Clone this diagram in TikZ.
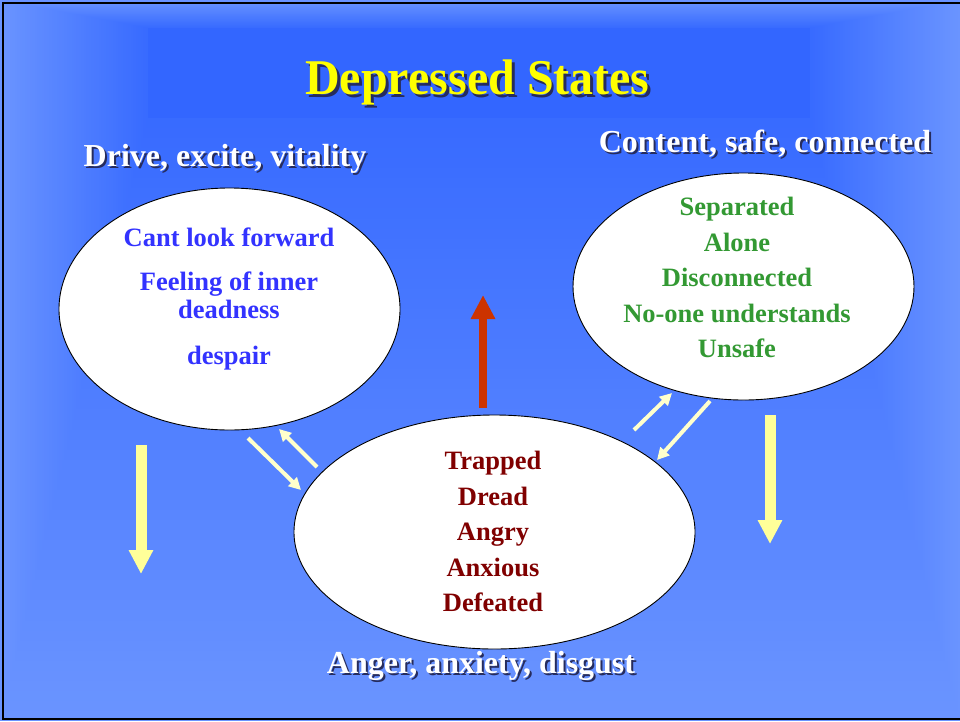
\documentclass[tikz,border=0pt]{standalone}
\usepackage{fontspec}
\setmainfont{Liberation Serif}
\usetikzlibrary{shapes.geometric,arrows.meta}

\definecolor{bglight}{HTML}{6A94FF}
\definecolor{bgdark}{HTML}{376AFF}
\definecolor{titleband}{HTML}{3366FF}
\definecolor{titleyellow}{HTML}{FFFF00}
\definecolor{drivetext}{HTML}{3333FF}
\definecolor{safetext}{HTML}{339933}
\definecolor{threattext}{HTML}{800000}
\definecolor{flowyellow}{HTML}{FFFF99}
\definecolor{pairyellow}{HTML}{FFFFCC}
\definecolor{uparrow}{HTML}{CC3300}
\definecolor{shadowcol}{HTML}{1A1A40}

% text with a soft drop shadow, set inside a single node
\newcommand\dropshadowed[3]{%
  \makebox[0pt][l]{\hspace*{#1}\raisebox{-#1}{\textcolor{shadowcol!85!bglight}{#3}}}%
  \textcolor{#2}{#3}}

\tikzset{
  statebox/.style={ellipse, draw=black, fill=white, line width=0.9pt, inner sep=0pt},
  heading/.style={anchor=base, font=\fontsize{32}{38}\selectfont\bfseries, inner sep=0pt},
  item/.style={anchor=base, font=\fontsize{26.5}{32}\selectfont\bfseries, inner sep=0pt},
  bigflow/.style={line width=11pt, -{Triangle[width=23pt,length=24pt]}},
  pairflow/.style={line width=4pt, -{Triangle[width=12pt,length=12pt]}, draw=pairyellow}
}

\begin{document}
\begin{tikzpicture}[x=1pt,y=-1pt]
\useasboundingbox (0,0) rectangle (960,721);

% rectangular background gradient, darkest around the title band
\foreach \k in {0,...,60}{
  \pgfmathsetmacro\t{\k/60}
  \pgfmathsetmacro\p{100*\t}
  \fill[bgdark!\p!bglight] (148*\t,28*\t) rectangle (960-150*\t,721-603*\t);
}
\fill[titleband] (148,28) rectangle (810,118);

% frame
\draw[black, line width=2pt] (960,3) -- (3,3) -- (3,719) -- (960,719);

% title
\node[anchor=base, font=\fontsize{50}{60}\selectfont\bfseries, xscale=0.96, inner sep=0pt] (title) at (477.5,94)
  {\dropshadowed{3pt}{titleyellow}{Depressed States}};

% system headings
\node[heading] (drivehead) at (225,166) {\dropshadowed{2pt}{white}{Drive, excite, vitality}};
\node[heading] (safehead) at (765,152) {\dropshadowed{2pt}{white}{Content, safe, connected}};
\node[heading] (threathead) at (481,673) {\dropshadowed{2pt}{white}{Anger, anxiety, disgust}};

% the three states
\node[statebox, minimum width=341pt, minimum height=242pt] (drive) at (229.5,309) {};
\node[statebox, minimum width=341pt, minimum height=227pt] (safe) at (743.5,286.5) {};
\node[statebox, minimum width=401pt, minimum height=234pt] (threat) at (494.5,532) {};

% drive contents
\node[item, text=drivetext] (d1) at (229,246) {Cant look forward};
\node[item, text=drivetext] (d2) at (229,290) {Feeling of inner};
\node[item, text=drivetext] (d3) at (229,318) {deadness};
\node[item, text=drivetext] (d4) at (229,364) {despair};

% soothing contents
\node[item, text=safetext] (s1) at (737,215.5) {Separated};
\node[item, text=safetext] (s2) at (737,251) {Alone};
\node[item, text=safetext] (s3) at (737,286.5) {Disconnected};
\node[item, text=safetext] (s4) at (737,322) {No-one understands};
\node[item, text=safetext] (s5) at (737,357) {Unsafe};

% threat contents
\node[item, text=threattext] (t1) at (493,469.5) {Trapped};
\node[item, text=threattext] (t2) at (493,505) {Dread};
\node[item, text=threattext] (t3) at (493,540.5) {Angry};
\node[item, text=threattext] (t4) at (493,576) {Anxious};
\node[item, text=threattext] (t5) at (493,611.5) {Defeated};

% flow arrows
\coordinate (upfoot) at (483,408);
\coordinate (uptip) at (483,295);
\draw[bigflow, draw=uparrow, line width=8pt] (upfoot) -- (uptip);

\coordinate (leftfoot) at (141,445);
\coordinate (lefttip) at (141,574);
\draw[bigflow, draw=flowyellow] (leftfoot) -- (lefttip);

\coordinate (rightfoot) at (770,415);
\coordinate (righttip) at (770,544);
\draw[bigflow, draw=flowyellow] (rightfoot) -- (righttip);

% exchanges between the states
\coordinate (da) at (248,438);  \coordinate (db) at (301,490);
\coordinate (dc) at (317,467);  \coordinate (dd) at (279,429);
\draw[pairflow] (da) -- (db);
\draw[pairflow] (dc) -- (dd);

\coordinate (sa) at (634,430);  \coordinate (sb) at (672,393);
\coordinate (sc) at (710,401);  \coordinate (sd) at (657,460);
\draw[pairflow] (sa) -- (sb);
\draw[pairflow] (sc) -- (sd);
\end{tikzpicture}
\end{document}
